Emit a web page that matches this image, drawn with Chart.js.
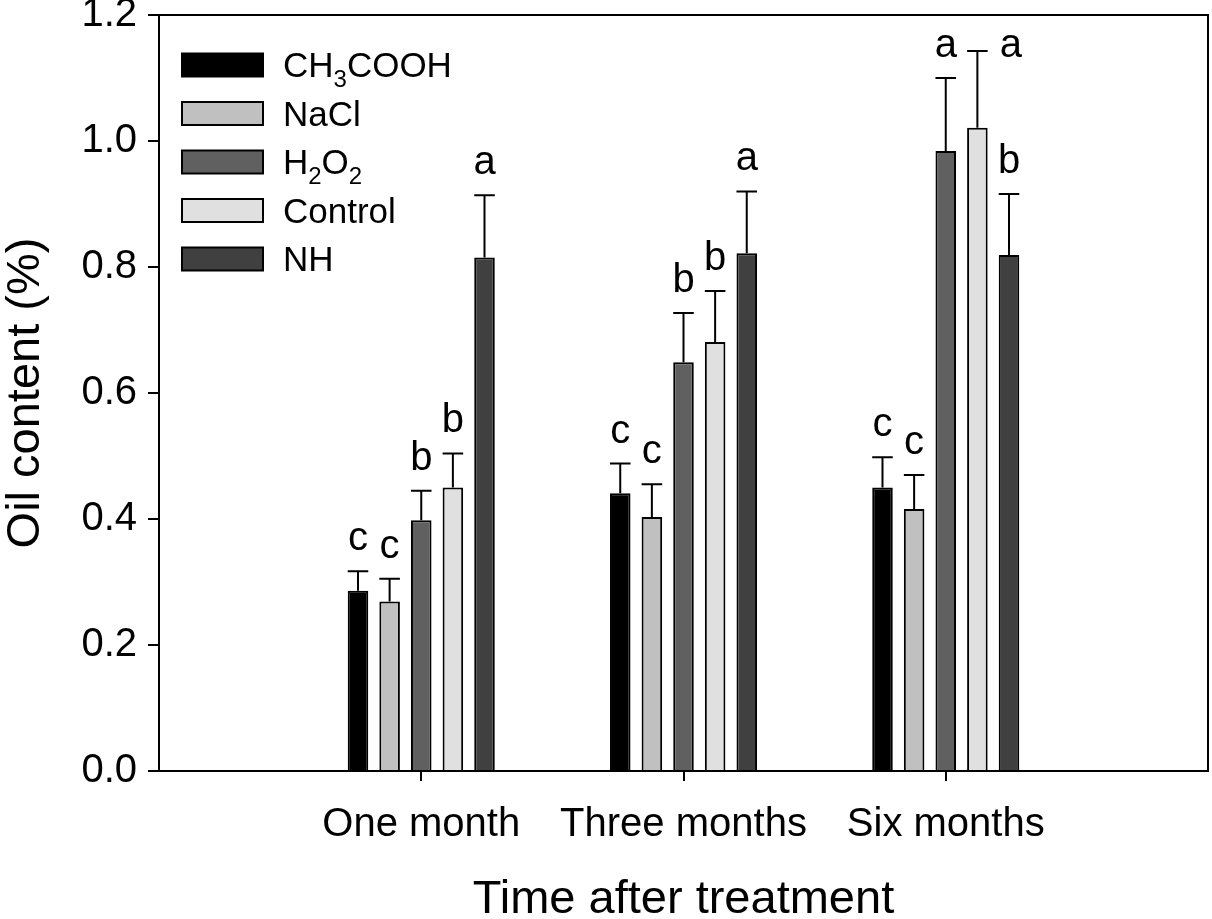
<!DOCTYPE html>
<html>
<head>
<meta charset="utf-8">
<script src="https://cdn.jsdelivr.net/npm/chart.js@4/dist/chart.umd.min.js"></script>
<style>
  body { margin: 0; background: #fff; }
  #wrap { width: 1212px; height: 919px; }
</style>
</head>
<body>
<div id="wrap"><canvas id="myChart"></canvas></div>
<script>
// categories and series
const categories = ['One month', 'Three months', 'Six months'];
const seriesNames = ['CH3COOH', 'NaCl', 'H2O2', 'Control', 'NH'];

const ch3cooh = [0.286, 0.441, 0.450];
const nacl    = [0.269, 0.403, 0.416];
const h2o2    = [0.398, 0.649, 0.984];
const control = [0.450, 0.681, 1.021];
const nh      = [0.815, 0.822, 0.819];

// standard errors (upper bar only)
const ch3coohErr = [0.031, 0.047, 0.048];
const naclErr    = [0.036, 0.052, 0.054];
const h2o2Err    = [0.047, 0.078, 0.116];
const controlErr = [0.054, 0.081, 0.122];
const nhErr      = [0.099, 0.098, 0.097];

// significance letters
const ch3coohSig = ['c', 'c', 'c'];
const naclSig    = ['c', 'c', 'c'];
const h2o2Sig    = ['b', 'b', 'a'];
const controlSig = ['b', 'b', 'a'];
const nhSig      = ['a', 'a', 'b'];

const yTicks = [0, 0.2, 0.4, 0.6, 0.8, 1.0, 1.2];

const FONT = "'Liberation Sans', Arial, sans-serif";
const fills = ['#000000', '#c0c0c0', '#606060', '#e0e0e0', '#404040'];

const values = [ch3cooh, nacl, h2o2, control, nh];
const errors = [ch3coohErr, naclErr, h2o2Err, controlErr, nhErr];
const letters = [ch3coohSig, naclSig, h2o2Sig, controlSig, nhSig];

let datasets = seriesNames.map((name, i) => ({
    label: name,
    data: categories.map((c, k) => ({ x: c, y: values[i][k] })),
    errors: errors[i],
    letters: letters[i],
    backgroundColor: fills[i],
    borderColor: '#000',
    borderWidth: 2,
    categoryPercentage: 0.603,
    barPercentage: 0.65
}));

// error bars, letters and the box round the plot
const errorBars = {
    id: 'errorBars',
    afterDatasetsDraw(chart) {
        const ctx = chart.ctx;
        const y = chart.scales.y;
        const area = chart.chartArea;
        ctx.save();
        ctx.strokeStyle = '#000';
        ctx.fillStyle = '#000';
        ctx.lineWidth = 2;
        ctx.font = '40px ' + FONT;
        ctx.textBaseline = 'alphabetic';
        chart.data.datasets.forEach((ds, i) => {
            chart.getDatasetMeta(i).data.forEach((bar, j) => {
                const top = y.getPixelForValue(ds.data[j].y + ds.errors[j]);
                const half = bar.width / 2;
                ctx.beginPath();
                ctx.moveTo(bar.x, bar.y);
                ctx.lineTo(bar.x, top);
                ctx.moveTo(bar.x - half, top);
                ctx.lineTo(bar.x + half, top);
                ctx.stroke();

                const letter = ds.letters[j];
                const asc = ctx.measureText(letter).actualBoundingBoxAscent;
                if (top - 19 - asc < area.top) {
                    // no room above: put it beside the cap
                    ctx.textAlign = 'left';
                    ctx.fillText(letter, bar.x + half + 12, top + 6);
                } else {
                    ctx.textAlign = 'center';
                    ctx.fillText(letter, bar.x, top - 21);
                }
            });
        });
        ctx.strokeRect(area.left, area.top, area.right - area.left, area.bottom - area.top);
        ctx.restore();
    }
};

// legend with subscript digits
const subLegend = {
    id: 'subLegend',
    afterDraw(chart) {
        const ctx = chart.ctx;
        const area = chart.chartArea;
        ctx.save();
        ctx.lineWidth = 2;
        ctx.strokeStyle = '#000';
        ctx.textAlign = 'left';
        ctx.textBaseline = 'alphabetic';
        chart.data.datasets.forEach((ds, i) => {
            const cy = area.top + 50 + i * 48.5;
            const x = area.left + 23;
            ctx.fillStyle = ds.backgroundColor;
            ctx.fillRect(x, cy - 11.5, 81, 23);
            ctx.strokeRect(x, cy - 11.5, 81, 23);

            ctx.fillStyle = '#000';
            let tx = x + 101;
            ds.label.match(/\d+|\D+/g).forEach(part => {
                const sub = /\d/.test(part);
                ctx.font = (sub ? 24 : 35) + 'px ' + FONT;
                ctx.fillText(part, tx, cy + 12 + (sub ? 10 : 0));
                tx += ctx.measureText(part).width;
            });
        });
        ctx.restore();
    }
};

const xLabels = [''].concat(categories, ['']);

function noOverhang(scale) {
    scale.paddingTop = 0;
    scale.paddingBottom = 0;
    scale.paddingLeft = 0;
    scale.paddingRight = 0;
}

let myChart = document.getElementById('myChart').getContext('2d');

let chart = new Chart(myChart, {
    type: 'bar',
    data: {
        labels: xLabels,
        datasets: datasets
    },
    options: {
        responsive: true,
        maintainAspectRatio: false,
        animation: false,
        layout: { padding: { top: 15, right: 4, left: 0, bottom: 0 } },
        plugins: {
            legend: { display: false },
            tooltip: { enabled: true }
        },
        scales: {
            x: {
                type: 'category',
                offset: false,
                grid: {
                    offset: false,
                    drawOnChartArea: false,
                    tickLength: 10,
                    lineWidth: 2,
                    color: c => (c.index === 0 || c.index === xLabels.length - 1) ? 'rgba(0,0,0,0)' : '#000'
                },
                border: { display: false },
                ticks: {
                    color: '#000',
                    font: { size: 40, family: FONT },
                    padding: 20,
                    maxRotation: 0,
                    autoSkip: false
                },
                title: {
                    display: true,
                    text: 'Time after treatment',
                    color: '#000',
                    font: { size: 47, family: FONT, lineHeight: 1 },
                    padding: { top: 0, bottom: -5 }
                },
                afterFit(scale) { scale.height = 148; noOverhang(scale); }
            },
            y: {
                min: yTicks[0],
                max: yTicks[yTicks.length - 1],
                afterBuildTicks(scale) { scale.ticks = yTicks.map(v => ({ value: v })); },
                ticks: {
                    color: '#000',
                    font: { size: 40, family: FONT },
                    padding: 11,
                    callback: v => v.toFixed(1)
                },
                grid: {
                    drawOnChartArea: false,
                    tickLength: 11,
                    lineWidth: 2,
                    color: '#000'
                },
                border: { display: false },
                title: {
                    display: true,
                    text: 'Oil content (%)',
                    color: '#000',
                    font: { size: 47, family: FONT, lineHeight: 1 },
                    padding: { top: 3, bottom: 0 }
                },
                afterFit(scale) { scale.width = 159; noOverhang(scale); }
            }
        }
    },
    plugins: [errorBars, subLegend]
});
</script>
</body>
</html>
